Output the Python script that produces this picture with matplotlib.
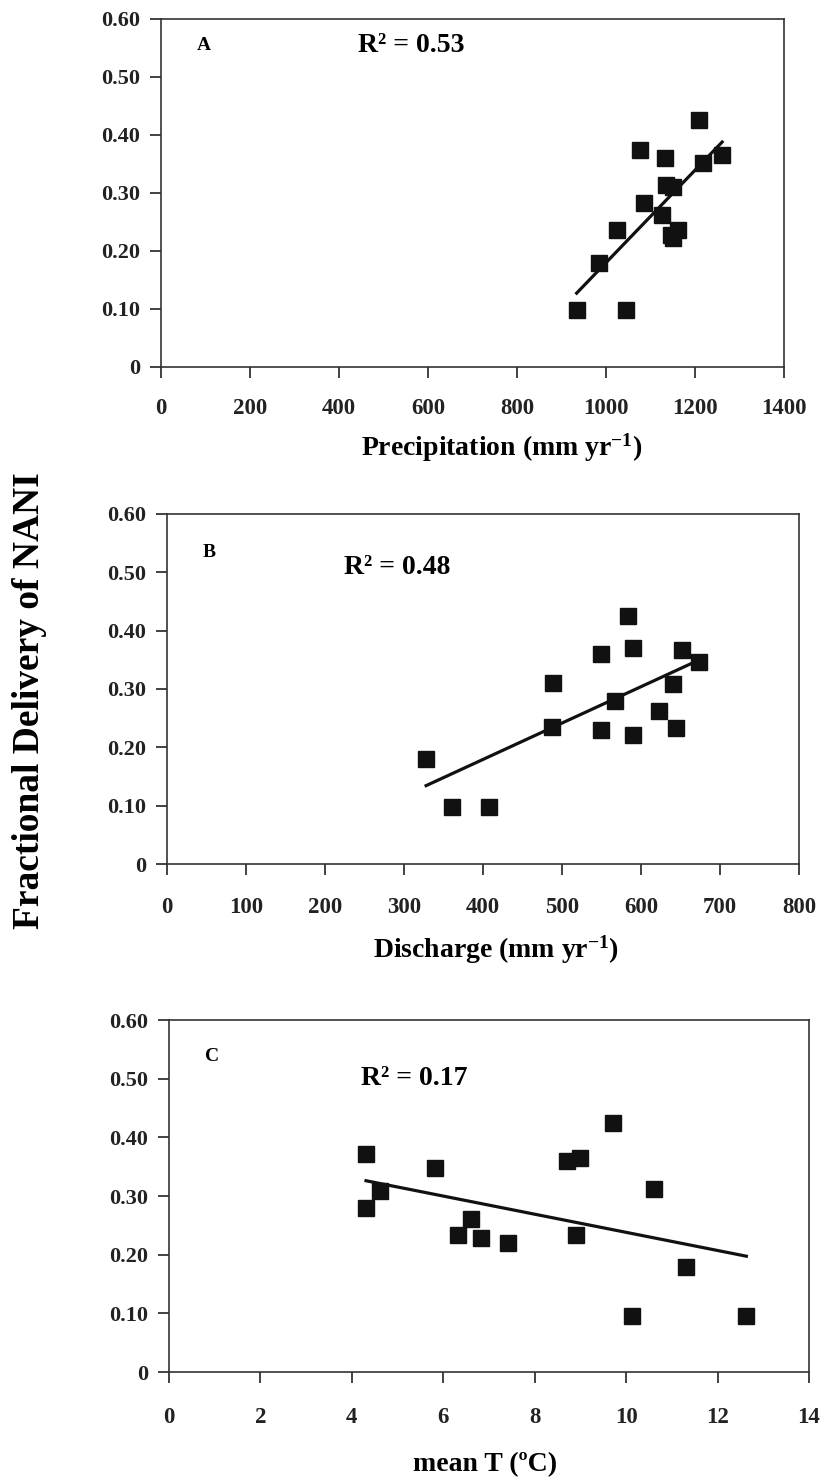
import numpy as np
import matplotlib
matplotlib.use("Agg")
import matplotlib.pyplot as plt

plt.rcParams['font.family'] = ['Liberation Serif', 'DejaVu Serif']
plt.rcParams['font.weight'] = 'bold'
plt.rcParams['mathtext.fontset'] = 'custom'
plt.rcParams['mathtext.rm'] = 'Liberation Serif:bold'
plt.rcParams['mathtext.bf'] = 'Liberation Serif:bold'
plt.rcParams['mathtext.it'] = 'Liberation Serif:bold'

# fractional delivery of NANI vs three drivers (16 watersheds)
precip = [934, 1046, 984, 1024, 1076, 1086, 1132, 1135, 1150, 1126, 1147, 1162, 1208, 1218, 1261, 1150]
frac_a = [0.098, 0.098, 0.179, 0.236, 0.374, 0.283, 0.361, 0.314, 0.310, 0.262, 0.228, 0.236, 0.426, 0.351, 0.366, 0.222]

discharge = [328, 361, 408, 488, 487, 549, 549, 567, 584, 590, 590, 623, 641, 644, 652, 674]
frac_b = [0.180, 0.097, 0.097, 0.311, 0.235, 0.360, 0.229, 0.280, 0.425, 0.371, 0.222, 0.262, 0.309, 0.233, 0.366, 0.347]

temp = [4.31, 4.31, 4.62, 5.82, 6.32, 6.61, 6.82, 7.41, 8.71, 9.0, 8.91, 9.72, 10.12, 10.62, 11.32, 12.63]
frac_c = [0.371, 0.280, 0.308, 0.347, 0.234, 0.261, 0.228, 0.220, 0.360, 0.365, 0.234, 0.425, 0.095, 0.312, 0.179, 0.096]

letters = ['A', 'B', 'C']
r2_labels = ['R\u00b2 = 0.53', 'R\u00b2 = 0.48', 'R\u00b2 = 0.17']
xlabels = ['Precipitation (mm yr$^{-1}$)', 'Discharge (mm yr$^{-1}$)', 'mean T (\u00baC)']
xticks_all = [np.arange(0, 1401, 200), np.arange(0, 801, 100), np.arange(0, 15, 2)]
yticks = [0, 0.1, 0.2, 0.3, 0.4, 0.5, 0.6]
ytick_labels = ['0', '0.10', '0.20', '0.30', '0.40', '0.50', '0.60']

W, H = 828, 1481
fig = plt.figure(figsize=(W / 100, H / 100), dpi=100)

# axes boxes in pixels: left, top, right, bottom
boxes = [(161, 19, 784, 367), (167, 514, 799, 864), (169, 1020, 809, 1372)]
letter_pos = [(0.058, 0.925), (0.057, 0.891), (0.056, 0.895)]
r2_pos = [(0.316, 0.925), (0.28, 0.846), (0.30, 0.835)]
xlab_pos = [(0.547, -0.233), (0.52, -0.246), (0.494, -0.264)]
xpads = [14, 16, 17]

data = [(precip, frac_a), (discharge, frac_b), (temp, frac_c)]

for i, (x, y) in enumerate(data):
    l, t, r, b = boxes[i]
    ax = fig.add_axes([l / W, 1 - b / H, (r - l) / W, (b - t) / H])
    x = np.array(x)
    y = np.array(y)
    ax.plot(x, y, 's', color='#111111', ms=12, mec='#111111', zorder=3)

    # least squares trend line over data range
    k, c = np.polyfit(x, y, 1)
    xs = np.array([x.min(), x.max()])
    ax.plot(xs, k * xs + c, '-', color='#111111', lw=2.3, zorder=2)

    xt = xticks_all[i]
    ax.set_xlim(xt[0], xt[-1])
    ax.set_ylim(0, 0.6)
    ax.set_xticks(xt)
    ax.set_yticks(yticks)
    ax.set_yticklabels(ytick_labels)
    ax.tick_params(axis='x', direction='out', length=8, width=1.2, pad=xpads[i],
                   labelsize=16.5, colors='#222222')
    ax.tick_params(axis='y', direction='out', length=8, width=1.2, pad=7,
                   labelsize=16, colors='#222222')
    for s in ax.spines.values():
        s.set_color('#333333')
        s.set_linewidth(1.2)

    ax.text(*letter_pos[i], letters[i], transform=ax.transAxes, fontsize=14,
            fontweight='bold', va='center', ha='left')
    ax.text(*r2_pos[i], r2_labels[i], transform=ax.transAxes, fontsize=20,
            fontweight='bold', va='center', ha='left')

    ax.set_xlabel(xlabels[i], fontsize=20, fontweight='bold')
    ax.xaxis.set_label_coords(*xlab_pos[i])
    ax.xaxis.label.set_verticalalignment('center')

fig.text(30 / W, 1 - 701 / H, 'Fractional Delivery of NANI', rotation=90,
         fontsize=27, fontweight='bold', ha='center', va='center')

fig.savefig('out.png', dpi=100)
